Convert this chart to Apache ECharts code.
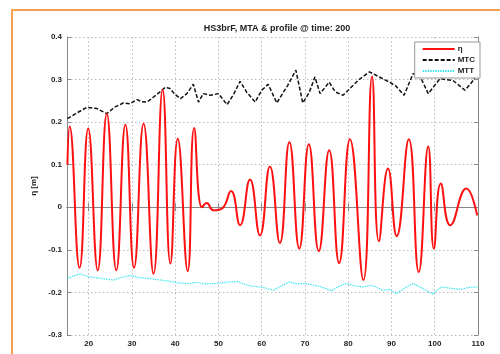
<!DOCTYPE html>
<html>
<head>
<meta charset="utf-8">
<script src="https://cdn.jsdelivr.net/npm/echarts@6/dist/echarts.min.js"></script>
<style>
  html, body { margin: 0; padding: 0; background: #fff; }
  #chart { width: 500px; height: 354px; }
</style>
</head>
<body>
<div id="chart"></div>
<script>
// data: [x, value]
const etaPoints = [
  [15.1, 0.10], [15.6, 0.19], [17.9, -0.142], [19.9, 0.185], [22.1, -0.148],
  [24.2, 0.22], [26.4, -0.148], [28.5, 0.194], [30.5, -0.142], [32.7, 0.196],
  [35.0, -0.156], [37.1, 0.276], [38.9, -0.132], [40.6, 0.161], [42.9, -0.15],
  [44.4, 0.186], [46.2, 0.0], [47.3, 0.01], [48.8, -0.007], [50.8, -0.003],
  [52.9, 0.038], [55.0, -0.042], [57.3, 0.065], [59.6, -0.066], [61.9, 0.096],
  [64.2, -0.084], [66.4, 0.153], [68.7, -0.097], [70.9, 0.148], [73.2, -0.103],
  [75.6, 0.134], [77.9, -0.131], [80.4, 0.16], [83.5, -0.171], [85.5, 0.307],
  [87.1, -0.08], [89.2, 0.091], [91.2, -0.068], [94.0, 0.16], [96.3, -0.152],
  [98.5, 0.143], [99.8, -0.097], [101.4, 0.056], [103.6, -0.042], [107.3, 0.044],
  [109.8, -0.019]
]
const mtcPoints = [
  [15.1, 0.208], [17, 0.22], [19.6, 0.235], [21.9, 0.232], [24.2, 0.22],
  [26, 0.235], [28, 0.245], [29.5, 0.243], [31.2, 0.253], [32.3, 0.248],
  [33.5, 0.247], [35, 0.259], [36.5, 0.271], [37.7, 0.282], [38.8, 0.279],
  [40, 0.265], [41.2, 0.255], [42.7, 0.267], [44.2, 0.289], [45.4, 0.247],
  [46.5, 0.267], [48.2, 0.263], [50, 0.267], [52, 0.241], [53.5, 0.265],
  [55, 0.296], [56.5, 0.271], [58.5, 0.247], [60, 0.275], [61.5, 0.289],
  [63.5, 0.245], [65, 0.27], [66, 0.286], [67.9, 0.322], [69.5, 0.245],
  [71, 0.27], [72.3, 0.306], [73.5, 0.267], [75.6, 0.294], [77, 0.271],
  [78.8, 0.263], [80.4, 0.279], [82.5, 0.3], [84.9, 0.318], [87.2, 0.306],
  [89.5, 0.294], [91, 0.285], [92.9, 0.263], [95, 0.314], [96.5, 0.31],
  [98.5, 0.267], [101.2, 0.302], [104.2, 0.298], [107, 0.275], [108.9, 0.298],
  [110, 0.322]
]
const mttPoints = [
  [15.1, -0.168], [16, -0.163], [18, -0.157], [20, -0.163], [21.5, -0.165],
  [23.5, -0.168], [25.8, -0.171], [27.5, -0.165], [29.6, -0.16], [31.5, -0.165],
  [33.5, -0.167], [36, -0.17], [38.9, -0.174], [41, -0.178], [43, -0.179],
  [45, -0.176], [47, -0.18], [49.6, -0.179], [52, -0.176], [54.4, -0.174],
  [56, -0.181], [57.5, -0.185], [59.6, -0.187], [61, -0.19], [62.7, -0.195],
  [64.5, -0.185], [66.5, -0.175], [68, -0.18], [70, -0.179], [71.5, -0.182],
  [73.5, -0.186], [76.2, -0.196], [77.5, -0.187], [79.5, -0.179], [81.5, -0.185],
  [83.5, -0.187], [85.5, -0.183], [88, -0.195], [89.5, -0.193], [91.2, -0.203],
  [93, -0.19], [95, -0.179], [97.5, -0.192], [99.6, -0.204], [101.5, -0.187],
  [103.5, -0.19], [106, -0.193], [108, -0.188], [110, -0.187]
]
const xTicks = [20, 30, 40, 50, 60, 70, 80, 90, 100, 110]
const seriesNames = ['η', 'MTC', 'MTT']

const font = 'Liberation Sans, Arial, sans-serif'
const axisColor = '#888'
const gridLine = { show: true, lineStyle: { color: '#bbb', type: [1.5, 2.5] } }

const chart = echarts.init(document.getElementById('chart'))
chart.setOption({
  backgroundColor: '#fff',
  animation: false,
  graphic: [{
    type: 'rect',
    shape: { x: 12, y: 10, width: 500, height: 360 },
    style: { fill: 'none', stroke: '#f5a04e', lineWidth: 2 },
    silent: true
  }],
  title: {
    text: 'HS3brF, MTA & profile @ time: 200',
    left: 272,
    textAlign: 'center',
    top: 19,
    textStyle: { fontFamily: font, fontSize: 9, fontWeight: 'bold', color: '#222' }
  },
  grid: { left: 67, right: 22, top: 37, bottom: 19, outerBoundsMode: 'none' },
  legend: {
    data: seriesNames,
    orient: 'vertical',
    right: 20,
    top: 42,
    backgroundColor: '#fff',
    borderColor: '#999',
    borderWidth: 1,
    padding: [3, 5, 3, 7],
    itemGap: 3,
    itemWidth: 32,
    itemHeight: 8,
    itemStyle: { opacity: 0 },
    textStyle: { fontFamily: font, fontSize: 8, fontWeight: 'bold', color: '#222', padding: [0, 0, 0, -2] }
  },
  xAxis: [{
    type: 'value',
    min: 15,
    max: 110,
    name: 'x [m]',
    nameLocation: 'middle',
    nameGap: 14,
    nameTextStyle: { fontFamily: font, fontSize: 8, fontWeight: 'bold', color: '#222' },
    axisLine: { lineStyle: { color: axisColor } },
    axisTick: { inside: true, length: 4, customValues: xTicks, lineStyle: { color: axisColor } },
    axisLabel: { customValues: xTicks, fontFamily: font, fontSize: 8, fontWeight: 'bold', color: '#222', margin: 5 },
    splitLine: gridLine
  }, {
    type: 'value',
    position: 'top',
    min: 15,
    max: 110,
    axisLine: { show: true, lineStyle: { color: axisColor } },
    axisTick: { show: true, inside: true, length: 4, customValues: xTicks, lineStyle: { color: axisColor } },
    axisLabel: { show: false },
    splitLine: { show: false }
  }],
  yAxis: [{
    type: 'value',
    min: -0.3,
    max: 0.4,
    interval: 0.1,
    name: 'η [m]',
    nameLocation: 'middle',
    nameGap: 24,
    nameTextStyle: { fontFamily: font, fontSize: 8, fontWeight: 'bold', color: '#222' },
    axisLine: { show: true, lineStyle: { color: axisColor } },
    axisTick: { show: true, inside: true, length: 4, lineStyle: { color: axisColor } },
    axisLabel: { fontFamily: font, fontSize: 8, fontWeight: 'bold', color: '#222', margin: 5 },
    splitLine: gridLine
  }, {
    type: 'value',
    position: 'right',
    min: -0.3,
    max: 0.4,
    interval: 0.1,
    axisLine: { show: true, lineStyle: { color: axisColor } },
    axisTick: { show: true, inside: true, length: 4, lineStyle: { color: axisColor } },
    axisLabel: { show: false },
    splitLine: { show: false }
  }],
  series: [{
    name: seriesNames[0],
    type: 'line',
    data: etaPoints,
    smooth: 0.5,
    symbol: 'none',
    lineStyle: { color: '#ff1010', width: 2 },
    itemStyle: { color: '#ff1010' },
    z: 4
  }, {
    name: seriesNames[1],
    type: 'line',
    data: mtcPoints,
    symbol: 'none',
    lineStyle: { color: '#111', width: 1.5, type: [4, 2] },
    itemStyle: { color: '#111' },
    z: 3
  }, {
    name: seriesNames[2],
    type: 'line',
    data: mttPoints,
    symbol: 'none',
    lineStyle: { color: '#3fe6f2', width: 1.2, type: [1.5, 1] },
    itemStyle: { color: '#3fe6f2' },
    z: 2
  }]
})
</script>
</body>
</html>
